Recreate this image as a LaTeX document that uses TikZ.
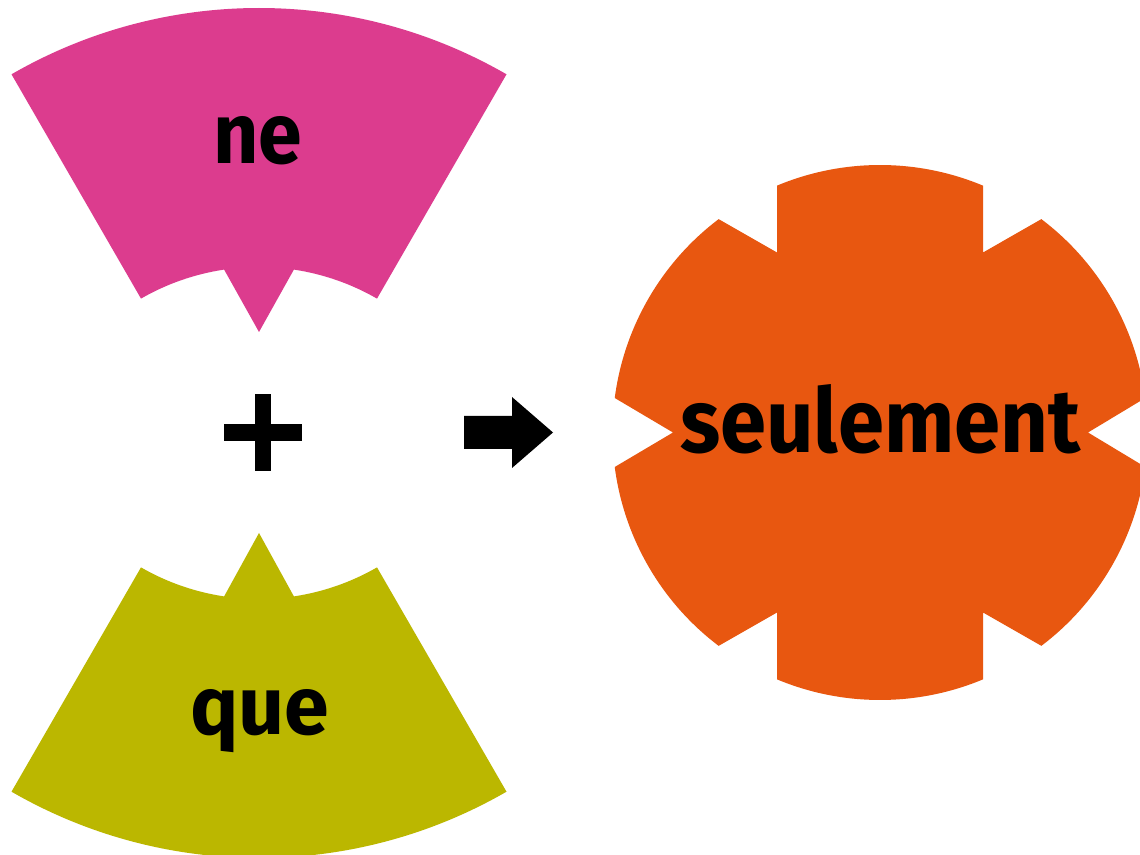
\documentclass[tikz,border=0pt]{standalone}
\usepackage{fontspec}
\usepackage{graphicx}
\setmainfont{Fira Sans}
\definecolor{cmag}{RGB}{220,60,142}
\definecolor{colive}{RGB}{187,183,0}
\definecolor{corange}{RGB}{232,87,16}
\tikzset{
  lbl/.style={inner sep=0pt, anchor=base west, text=black, font=\bfseries},
  blk/.style={fill=black, draw=none}
}
\begin{document}
\begin{tikzpicture}[x=1pt,y=1pt]
\clip (0,0) rectangle (1140,854);
\fill[white] (0,0) rectangle (1140,854);
% ne sector
\fill[cmag] ([shift={(259,351)}]60:495) arc[start angle=60,end angle=120,radius=495]
  -- ([shift={(259,351)}]120:236) arc[start angle=120,end angle=98.5,radius=236]
  -- (259,522) -- ([shift={(259,351)}]81.5:236) arc[start angle=81.5,end angle=60,radius=236] -- cycle;
% que sector
\fill[colive] ([shift={(259,491)}]-60:495) arc[start angle=-60,end angle=-120,radius=495]
  -- ([shift={(259,491)}]-120:236) arc[start angle=-120,end angle=-98.5,radius=236]
  -- (259,321) -- ([shift={(259,491)}]-81.5:236) arc[start angle=-81.5,end angle=-60,radius=236] -- cycle;
% seulement shape
\fill[corange] ([shift={(880,421.5)}]-7.41:267.5) -- (1088,421.5)
  -- ([shift={(880,421.5)}]7.41:267.5) arc[start angle=7.41,end angle=52.9,radius=267.5]
  -- (983,601.5) -- ([shift={(880,421.5)}]67.35:267.5) arc[start angle=67.35,end angle=112.65,radius=267.5]
  -- (777,601.5) -- ([shift={(880,421.5)}]127.1:267.5) arc[start angle=127.1,end angle=172.59,radius=267.5]
  -- (673,421.5) -- ([shift={(880,421.5)}]187.41:267.5) arc[start angle=187.41,end angle=232.9,radius=267.5]
  -- (777,241.5) -- ([shift={(880,421.5)}]247.35:267.5) arc[start angle=247.35,end angle=292.65,radius=267.5]
  -- (983,241.5) -- ([shift={(880,421.5)}]307.1:267.5) arc[start angle=307.1,end angle=352.59,radius=267.5] -- cycle;
% plus
\fill[blk] (255,383) rectangle (271,460);
\fill[blk] (224,413) rectangle (302,430);
% arrow
\fill[blk] (464,405) -- (512,405) -- (512,386) -- (553,421.5) -- (512,457) -- (512,438) -- (464,438) -- cycle;
% labels
\node[lbl] (ne) at (213,690) {\resizebox{89pt}{47pt}{ne}};
\node[lbl] (que) at (190,119) {\resizebox{139pt}{45pt}{que}};
\node[lbl] (seul) at (680,401) {\resizebox{400pt}{68pt}{seulement}};
\end{tikzpicture}
\end{document}
